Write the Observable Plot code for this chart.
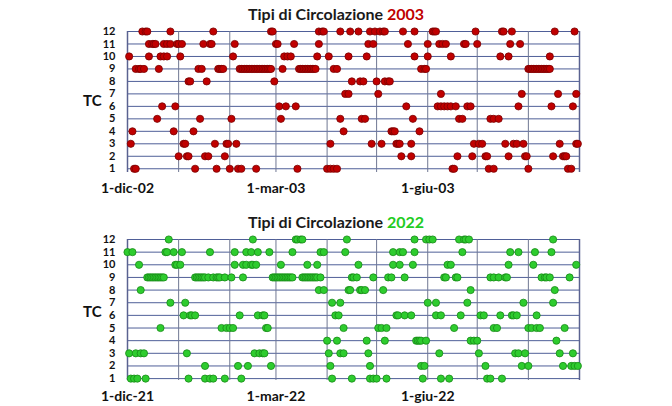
<!DOCTYPE html>
<html><head><meta charset="utf-8">
<script src="https://cdn.jsdelivr.net/npm/d3@7"></script>
<script src="https://cdn.jsdelivr.net/npm/@observablehq/plot@0.6"></script>
<style>
body{margin:0;width:672px;height:406px;background:#fff;font-family:Lato,"Open Sans",sans-serif;position:relative;overflow:hidden}
.title{position:absolute;left:0;width:672px;text-align:center;font-weight:bold;font-size:16px;color:#1a1a1a;line-height:20px}
.tc{position:absolute;font-weight:bold;font-size:15px;color:#111;line-height:18px}
.panel{position:absolute;left:0}
</style></head><body>
<div class="title" style="top:4px">Tipi di Circolazione <span style="color:#c00000">2003</span></div>
<div class="title" style="top:212px">Tipi di Circolazione <span style="color:#22cc22">2022</span></div>
<div class="tc" style="left:83px;top:91px">TC</div>
<div class="tc" style="left:83px;top:302px">TC</div>
<div class="panel" id="p1" style="top:0px"></div>
<div class="panel" id="p2" style="top:208px"></div>
<script>
// Day offsets from 1 December, one array per circulation type (index 0 = TC 1 ... index 11 = TC 12)
const days2003 = [
  [4,5,41,54,62,67,69,78,103,121,123,125,127,197,198,219,222,243,267,269],
  [31,36,37,47,49,59,166,172,200,209,217,218,231,241,242,258,264,265,266],
  [2,34,35,53,60,61,66,123,148,154,163,164,165,172,210,213,215,229,234,236,240,262,272,273],
  [3,28,40,131,160,161,162,177],
  [18,44,63,93,129,142,144,173,201,203,220,222,225],
  [21,29,92,96,102,169,188,190,192,194,196,199,206,208,237,257,270],
  [132,134,152,190,239,261,272],
  [37,38,48,89,136,141,143,151,156,158,159],
  [5,7,8,10,19,43,45,55,56,57,58,68,69,70,71,72,73,74,75,76,77,78,79,80,81,82,83,84,85,86,87,94,104,105,106,107,108,109,110,111,112,113,114,125,127,178,180,181,243,244,245,246,247,248,249,250,251,252,253,254,255,256],
  [1,13,20,22,24,32,64,95,97,99,115,122,134,145,174,182,196,226,231,256],
  [13,15,16,17,22,24,26,30,31,33,46,50,51,65,90,91,101,116,146,149,170,182,189,191,193,204,205,212,232,238],
  [9,11,12,26,52,87,88,116,118,119,129,135,140,147,150,153,155,156,167,174,185,186,187,211,227,228,233,259,271]
];
const days2022 = [
  [2,4,6,11,37,47,50,52,59,69,124,136,147,149,151,157,179,190,195,218,220,227],
  [47,67,73,87,123,147,178,180,217,239,243,264,269,271,273],
  [1,5,8,10,36,77,80,82,83,122,129,131,146,189,213,235,237,241,262,270],
  [121,127,145,156,175,176,177,178,181,208,210,212,260],
  [20,57,60,62,64,84,85,131,152,154,157,198,222,224,243,245,248,250,265],
  [34,38,39,41,68,79,82,83,126,128,163,164,168,172,187,190,202,214,216,226,233,234,236,248],
  [26,35,124,129,182,187,206,240,258],
  [8,116,119,134,135,141,142,144,155,208,259],
  [12,13,14,15,16,17,18,19,20,21,22,41,42,43,44,45,46,47,49,52,54,55,56,59,63,70,88,89,90,91,92,93,94,95,96,97,98,99,100,106,107,108,109,110,111,112,113,114,115,117,136,137,139,149,158,160,168,192,193,199,200,220,222,225,229,230,251,253,254,256,268],
  [7,29,30,32,65,70,72,75,76,78,93,109,115,140,161,165,173,194,196,231,246,272],
  [0,3,23,24,28,33,50,65,72,75,79,86,100,117,119,132,161,165,167,174,203,232,237,247,257],
  [25,76,102,103,105,106,133,174,181,183,185,201,204,205,207,258]
];
const tcLevels = [1,2,3,4,5,6,7,8,9,10,11,12];
const tickLabels2003 = ["1-dic-02","1-mar-03","1-giu-03"];
const tickLabels2022 = ["1-dic-21","1-mar-22","1-giu-22"];

function panel(startYear, daysByTc, labels, fill, stroke, yMin) {
  const start = new Date(Date.UTC(startYear, 11, 1));
  const end = new Date(Date.UTC(startYear + 1, 8, 1));
  const data = [];
  daysByTc.forEach((days, i) => days.forEach(d =>
    data.push({date: new Date(Date.UTC(startYear, 11, 1 + d)), tc: tcLevels[i]})));
  const months = d3.utcMonth.range(start, d3.utcDay.offset(end, 1));
  const ticks = [start, new Date(Date.UTC(startYear + 1, 2, 1)), new Date(Date.UTC(startYear + 1, 5, 1))];
  const fmt = new Map(ticks.map((t, i) => [+t, labels[i]]));
  return Plot.plot({
    width: 672, height: 198,
    marginLeft: 127, marginRight: 93, marginTop: 31, marginBottom: 26,
    style: {fontFamily: 'Lato,"Open Sans",sans-serif', fontWeight: "bold", color: "#111", background: "transparent"},
    x: {type: "utc", domain: [start, end], ticks, tickFormat: d => fmt.get(+d), label: null},
    y: {domain: [yMin, 12], ticks: tcLevels, label: null},
    marks: [
      Plot.ruleY(tcLevels, {y: d => d, stroke: "#4f5f98", strokeWidth: 1}),
      Plot.ruleX(months, {x: d => d, stroke: "#707893", strokeWidth: 1}),
      Plot.ruleX([start, end], {x: d => d, stroke: "#5a6290", strokeWidth: 1.5}),
      Plot.axisX({ticks, tickFormat: d => fmt.get(+d), tickSize: 0, tickPadding: 11, fontSize: 14, label: null}),
      Plot.axisY({ticks: tcLevels, tickSize: 0, tickPadding: 12, fontSize: 11, label: null}),
      Plot.dot(data, {x: "date", y: "tc", r: 3.6, fill, stroke, strokeWidth: 0.8})
    ]
  });
}
document.getElementById("p1").append(panel(2002, days2003, tickLabels2003, "#c00000", "#7a0000", 0.7));
document.getElementById("p2").append(panel(2021, days2022, tickLabels2022, "#2ecc2e", "#178a17", 0.85));
</script>
</body></html>
